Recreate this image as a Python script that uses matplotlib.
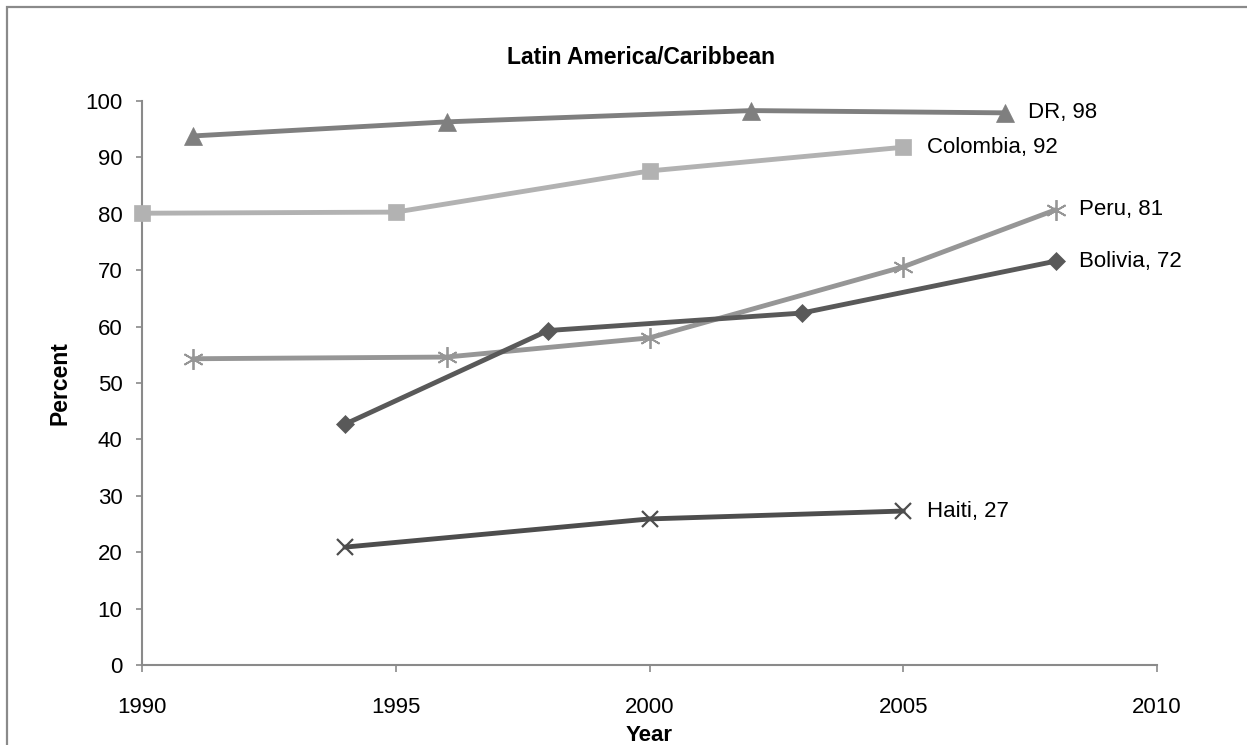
import matplotlib
matplotlib.use("Agg")
import matplotlib.pyplot as plt
from matplotlib.patches import Rectangle

plt.rcParams['font.family'] = ['Liberation Sans', 'DejaVu Sans']

# Survey years and percentages per country
dr_years = [1991, 1996, 2002, 2007]
dr_vals = [93.8, 96.3, 98.3, 97.9]

colombia_years = [1990, 1995, 2000, 2005]
colombia_vals = [80.1, 80.3, 87.6, 91.8]

peru_years = [1991, 1996, 2000, 2005, 2008]
peru_vals = [54.3, 54.6, 58.0, 70.6, 80.7]

bolivia_years = [1994, 1998, 2003, 2008]
bolivia_vals = [42.7, 59.3, 62.4, 71.6]

haiti_years = [1994, 2000, 2005]
haiti_vals = [20.9, 25.9, 27.3]

series = [
    ("DR", dr_years, dr_vals, "#7f7f7f", "^", 13, 0),
    ("Colombia", colombia_years, colombia_vals, "#b2b2b2", "s", 12, 0),
    ("Peru", peru_years, peru_vals, "#969696", (6, 2, 0), 15, 1.3),
    ("Bolivia", bolivia_years, bolivia_vals, "#595959", "D", 9.5, 0),
    ("Haiti", haiti_years, haiti_vals, "#4d4d4d", "x", 12, 1.6),
]

fig = plt.figure(figsize=(12.47, 7.45), dpi=100)
ax = fig.add_axes([142 / 1247, 1 - 665 / 745, (1157 - 142) / 1247, (665 - 101) / 745])

# outer chart frame
fig.patches.append(Rectangle((7 / 1247, -0.1), 1.2, 1 - 7 / 745 + 0.1,
                             transform=fig.transFigure, fill=False,
                             edgecolor="#8a8a8a", linewidth=1.6, zorder=0))

for name, xs, ys, color, marker, ms, mew in series:
    ax.plot(xs, ys, color=color, linewidth=3.5, marker=marker, markersize=ms,
            markeredgewidth=mew if mew else 0.5, markeredgecolor=color,
            markerfacecolor=color, solid_capstyle="round", clip_on=False, zorder=3)
    ax.annotate(f"{name}, {ys[-1]:.0f}", xy=(xs[-1], ys[-1]), xytext=(17, 0),
                textcoords="offset points", va="center", ha="left",
                fontsize=16, color="black")

ax.set_xlim(1990, 2010)
ax.set_ylim(0, 100)
ax.set_xticks(range(1990, 2011, 5))
ax.set_yticks(range(0, 101, 10))

for side in ("top", "right"):
    ax.spines[side].set_visible(False)
for side in ("left", "bottom"):
    ax.spines[side].set_color("#8a8a8a")
    ax.spines[side].set_linewidth(1.5)

ax.tick_params(axis="y", direction="out", length=4, width=1.2, color="#8a8a8a",
               labelsize=16, pad=10)
ax.tick_params(axis="x", direction="out", length=5, width=1.2, color="#8a8a8a",
               labelsize=16, pad=18)

ax.set_ylabel("Percent", fontsize=16.5, fontweight="bold", labelpad=10)
ax.set_xlabel("Year", fontsize=16, fontweight="bold", labelpad=5)

fig.text(641 / 1247, 1 - 57 / 745, "Latin America/Caribbean", ha="center",
         va="center", fontsize=16.5, fontweight="bold")

fig.savefig("out.png", dpi=100, facecolor="white")
